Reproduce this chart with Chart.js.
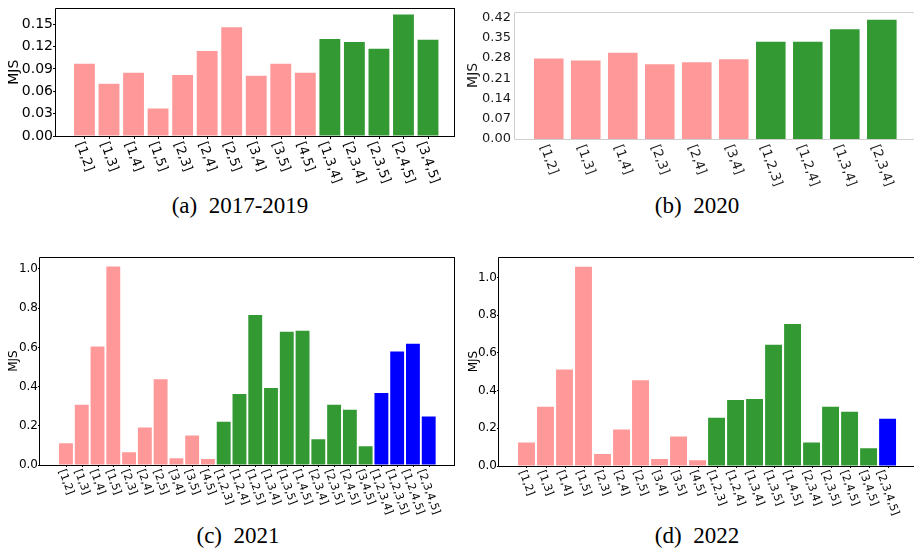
<!DOCTYPE html>
<html>
<head>
<meta charset="utf-8">
<script src="https://cdn.jsdelivr.net/npm/chart.js@4.4.1/dist/chart.umd.min.js"></script>
<style>
  body { margin: 0; background: #fff; width: 914px; height: 554px; position: relative; overflow: hidden; }
  canvas { position: absolute; }
  .cap { position: absolute; font-family: "Liberation Serif", serif; font-size: 23px; color: #000; transform: translateX(-50%); white-space: pre; }
</style>
</head>
<body>
<canvas id="c17" width="460" height="190" style="left:0;top:0"></canvas>
<canvas id="c20" width="454" height="190" style="left:460px;top:0"></canvas>
<canvas id="c21" width="460" height="270" style="left:0;top:250px"></canvas>
<canvas id="c22" width="454" height="270" style="left:460px;top:250px"></canvas>
<div class="cap" style="left:240px;top:193px">(a)  2017-2019</div>
<div class="cap" style="left:697px;top:193px">(b)  2020</div>
<div class="cap" style="left:238px;top:523px">(c)  2021</div>
<div class="cap" style="left:697px;top:523px">(d)  2022</div>
<script>
// data
const labels17 = ['[1,2]','[1,3]','[1,4]','[1,5]','[2,3]','[2,4]','[2,5]','[3,4]','[3,5]','[4,5]','[1,3,4]','[2,3,4]','[2,3,5]','[2,4,5]','[3,4,5]'];
const mjs17 = [0.097,0.070,0.085,0.037,0.082,0.114,0.146,0.081,0.097,0.085,0.130,0.126,0.117,0.163,0.129];

const labels20 = ['[1,2]','[1,3]','[1,4]','[2,3]','[2,4]','[3,4]','[1,2,3]','[1,2,4]','[1,3,4]','[2,3,4]'];
const mjs20 = [0.283,0.276,0.303,0.263,0.270,0.281,0.341,0.341,0.384,0.417];

const labels21 = ['[1,2]','[1,3]','[1,4]','[1,5]','[2,3]','[2,4]','[2,5]','[3,4]','[3,5]','[4,5]',
  '[1,2,3]','[1,2,4]','[1,2,5]','[1,3,4]','[1,3,5]','[1,4,5]','[2,3,4]','[2,3,5]','[2,4,5]','[3,4,5]',
  '[1,2,3,4]','[1,2,3,5]','[1,2,4,5]','[2,3,4,5]'];
const mjs21 = [0.111,0.307,0.604,1.012,0.065,0.191,0.438,0.035,0.151,0.030,
  0.221,0.362,0.765,0.393,0.680,0.685,0.131,0.307,0.282,0.096,
  0.367,0.579,0.619,0.247];

const labels22 = ['[1,2]','[1,3]','[1,4]','[1,5]','[2,3]','[2,4]','[2,5]','[3,4]','[3,5]','[4,5]',
  '[1,2,3]','[1,2,4]','[1,3,4]','[1,3,5]','[1,4,5]','[2,3,4]','[2,3,5]','[2,4,5]','[3,4,5]',
  '[2,3,4,5]'];
const mjs22 = [0.125,0.314,0.512,1.056,0.063,0.193,0.455,0.037,0.157,0.031,
  0.256,0.350,0.355,0.643,0.753,0.125,0.314,0.287,0.094,
  0.251];

// colour by size of the combination
const groupColors = { 2: '#ff9999', 3: '#339933', 4: '#0000ff' };
const colorOf = lab => groupColors[lab.split(',').length];

// rotated x labels + frame
const panelDeco = {
  id: 'panelDeco',
  afterDraw(chart, args, o) {
    const { ctx, chartArea: a, scales: { x } } = chart;
    const th = 70 * Math.PI / 180;
    ctx.save();
    ctx.font = o.size + 'px "DejaVu Sans"';
    ctx.fillStyle = o.color;
    ctx.strokeStyle = '#000';
    ctx.lineWidth = 1;
    chart.data.labels.forEach((t, i) => {
      const px = x.getPixelForValue(i);
      if (o.tick) {
        ctx.beginPath();
        ctx.moveTo(Math.round(px) + 0.5, a.bottom);
        ctx.lineTo(Math.round(px) + 0.5, a.bottom + o.tick);
        ctx.stroke();
      }
      const L = ctx.measureText(t).width, h = o.size;
      const cy = a.bottom + o.pad + (L * Math.sin(th) + h * Math.cos(th)) / 2;
      ctx.save();
      ctx.translate(px, cy);
      ctx.rotate(th);
      ctx.textAlign = 'center';
      ctx.textBaseline = 'middle';
      ctx.fillText(t, 0, 0);
      ctx.restore();
    });
    ctx.strokeStyle = o.frame;
    const l = Math.round(a.left) - 0.5, r = Math.round(a.right) - 0.5;
    const tp = Math.round(a.top) + 0.5, b = Math.round(a.bottom) + 0.5;
    ctx.beginPath();
    ctx.moveTo(l, tp); ctx.lineTo(l, b);
    ctx.moveTo(l, b); ctx.lineTo(a.right, b);
    ctx.moveTo(l, tp); ctx.lineTo(a.right, tp);
    if (o.rightSpine) { ctx.moveTo(r, tp); ctx.lineTo(r, b); }
    ctx.stroke();
    ctx.restore();
  }
};

function makePanel(id, labels, values, p) {
  new Chart(document.getElementById(id), {
    type: 'bar',
    data: {
      labels: labels,
      datasets: [{
        data: values.map((v, i) => ({ x: i, y: v })),
        backgroundColor: labels.map(colorOf),
        borderColor: '#ffffff',
        borderWidth: p.edge,
        categoryPercentage: 1,
        barPercentage: p.bar
      }]
    },
    options: {
      responsive: false,
      animation: false,
      layout: { padding: { top: p.top, right: p.right, left: 0, bottom: 0 } },
      plugins: {
        legend: { display: false },
        tooltip: { enabled: false },
        panelDeco: { size: p.xFont, color: p.textColor, tick: p.xTick, pad: p.xPad, frame: p.frame, rightSpine: p.rightSpine }
      },
      scales: {
        x: {
          type: 'linear',
          offset: false,
          min: p.xMin, max: p.xMax,
          grid: { display: false },
          border: { display: false },
          ticks: { display: false },
          afterFit: s => { s.height = p.xHeight; }
        },
        y: {
          min: 0, max: p.yMax,
          grid: { drawOnChartArea: false, display: p.yTick > 0, tickLength: p.yTick, tickColor: '#000', tickWidth: 1 },
          border: { display: false },
          ticks: {
            stepSize: p.step,
            includeBounds: false,
            padding: p.yPad,
            color: p.textColor,
            font: { family: 'DejaVu Sans', size: p.yFont },
            callback: v => v.toFixed(p.dec)
          },
          title: {
            display: true, text: 'MJS', color: p.textColor,
            font: { family: 'DejaVu Sans', size: p.titleSize },
            padding: { top: p.titlePad, bottom: 0 }
          },
          afterFit: s => { s.width = p.yWidth; }
        }
      }
    },
    plugins: [panelDeco]
  });
}

makePanel('c17', labels17, mjs17, {
  top: 7, right: 5, yWidth: 56, xHeight: 54,
  xMin: -1.16, xMax: 15.1, bar: 0.85, edge: 0,
  yMax: 0.1712, step: 0.03, dec: 2, yFont: 14, yTick: 3, yPad: 0,
  xFont: 13, xTick: 3, xPad: 4, titleSize: 14, titlePad: 6,
  textColor: '#000', frame: '#000', rightSpine: true
});

makePanel('c20', labels20, mjs20, {
  top: 8, right: 0, yWidth: 55, xHeight: 51,
  xMin: -0.913, xMax: 9.87, bar: 0.88, edge: 1.5,
  yMax: 0.4394, step: 0.07, dec: 2, yFont: 13, yTick: 0, yPad: 4,
  xFont: 13, xTick: 0, xPad: 4, titleSize: 14, titlePad: 5,
  textColor: '#1a1a1a', frame: '#cfcfcf', rightSpine: false
});

makePanel('c21', labels21, mjs21, {
  top: 4, right: 5, yWidth: 40, xHeight: 55,
  xMin: -1.648, xMax: 24.667, bar: 0.88, edge: 0,
  yMax: 1.06, step: 0.2, dec: 1, yFont: 12, yTick: 2, yPad: 0,
  xFont: 11, xTick: 2, xPad: 3, titleSize: 12, titlePad: 7,
  textColor: '#000', frame: '#000', rightSpine: true
});

makePanel('c22', labels22, mjs22, {
  top: 4, right: 0, yWidth: 39, xHeight: 54,
  xMin: -1.447, xMax: 20.39, bar: 0.89, edge: 0,
  yMax: 1.107, step: 0.2, dec: 1, yFont: 12, yTick: 2, yPad: 0,
  xFont: 11, xTick: 2, xPad: 3, titleSize: 12, titlePad: 7,
  textColor: '#000', frame: '#000', rightSpine: false
});
</script>
</body>
</html>
